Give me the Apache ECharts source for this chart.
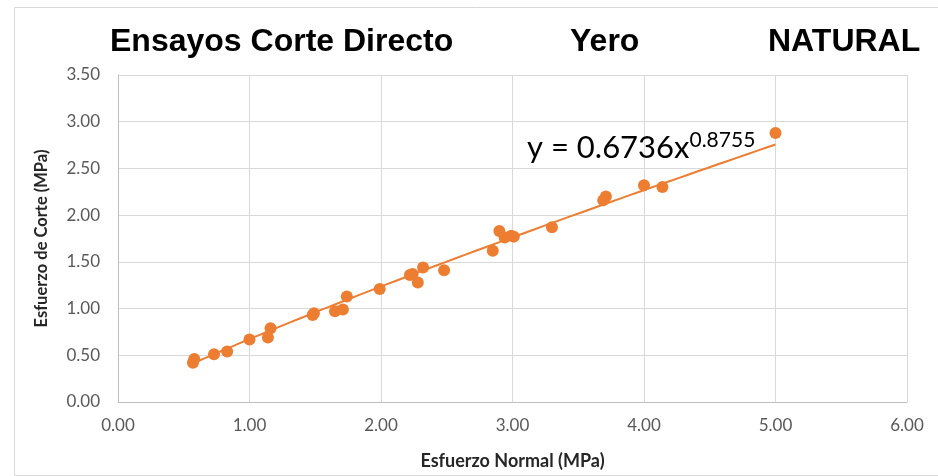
<!DOCTYPE html>
<html>
<head>
<meta charset="utf-8">
<script src="https://cdn.jsdelivr.net/npm/echarts@6/dist/echarts.min.js"></script>
<style>
html,body{margin:0;padding:0;background:#fff;}
#chart{width:938px;height:476px;}
</style>
</head>
<body>
<div id="chart"></div>
<script>
// Data
var normalStress = [0.57, 0.58, 0.73, 0.83, 1.00, 1.14, 1.16, 1.48, 1.49, 1.65, 1.71, 1.74, 1.99, 2.22, 2.24, 2.28, 2.32, 2.48, 2.85, 2.90, 2.94, 2.99, 3.01, 3.30, 3.69, 3.71, 4.00, 4.14, 5.00];
var shearStress  = [0.42, 0.46, 0.51, 0.54, 0.67, 0.69, 0.79, 0.93, 0.95, 0.97, 0.99, 1.13, 1.21, 1.36, 1.37, 1.28, 1.44, 1.41, 1.62, 1.83, 1.76, 1.78, 1.77, 1.87, 2.16, 2.20, 2.32, 2.30, 2.88];
var trendA = 0.6736;
var trendB = 0.8755;
var titleParts = ['Ensayos Corte Directo', 'Yero', 'NATURAL'];
var xTitle = 'Esfuerzo Normal (MPa)';
var yTitle = 'Esfuerzo de Corte (MPa)';

var points = normalStress.map(function (x, i) { return [x, shearStress[i]]; });
var xMin = Math.min.apply(null, normalStress), xMax = Math.max.apply(null, normalStress);
var trend = [];
for (var k = 0; k <= 60; k++) {
  var xv = xMin + (xMax - xMin) * k / 60;
  trend.push([xv, trendA * Math.pow(xv, trendB)]);
}

var chart = echarts.init(document.getElementById('chart'), null, {renderer: 'canvas'});
var titleFont = {fontFamily: 'Liberation Sans', fontWeight: 'bold', fontSize: 32, fill: '#000'};
chart.setOption({
  animation: false,
  backgroundColor: '#fff',
  grid: {left: 118, right: 31, top: 75, bottom: 74, containLabel: false},
  xAxis: {
    type: 'value', min: 0, max: 6, interval: 1,
    name: xTitle, nameLocation: 'middle', nameGap: 50,
    nameTextStyle: {fontFamily: 'Lato', fontWeight: 'bold', fontSize: 18, color: '#262626'},
    axisLine: {show: true, lineStyle: {color: '#BFBFBF', width: 1}},
    axisTick: {show: false},
    axisLabel: {margin: 15, fontFamily: 'Lato', fontSize: 17, color: '#595959',
      formatter: function (v) { return v.toFixed(2); }},
    splitLine: {show: true, lineStyle: {color: '#D9D9D9', width: 1}}
  },
  yAxis: {
    type: 'value', min: 0, max: 3.5, interval: 0.5,
    name: yTitle, nameLocation: 'middle', nameGap: 68, nameRotate: 90,
    nameTextStyle: {fontFamily: 'Lato', fontWeight: 'bold', fontSize: 16.5, color: '#262626'},
    axisLine: {show: true, lineStyle: {color: '#BFBFBF', width: 1}},
    axisTick: {show: false},
    axisLabel: {margin: 18, fontFamily: 'Lato', fontSize: 17, color: '#595959',
      formatter: function (v) { return v.toFixed(2); }},
    splitLine: {show: true, lineStyle: {color: '#D9D9D9', width: 1}}
  },
  series: [
    {
      type: 'line', data: trend, showSymbol: false, symbol: 'none', smooth: false,
      lineStyle: {color: '#ED7D31', width: 2}, z: 2, silent: true
    },
    {
      type: 'scatter', data: points, symbol: 'circle', symbolSize: 12,
      itemStyle: {color: '#ED7D31', opacity: 1}, z: 3
    }
  ],
  graphic: [
    {type: 'rect', left: 12, top: 5, shape: {width: 960, height: 468},
      style: {fill: 'none', stroke: '#D9D9D9', lineWidth: 1}, silent: true, z: -1},
    {type: 'text', x: 110, y: 42, style: Object.assign({text: titleParts[0], verticalAlign: 'middle'}, titleFont)},
    {type: 'text', x: 570, y: 42, style: Object.assign({text: titleParts[1], verticalAlign: 'middle'}, titleFont)},
    {type: 'text', x: 768, y: 42, style: Object.assign({text: titleParts[2], verticalAlign: 'middle'}, titleFont)},
    {type: 'text', x: 527, y: 130, z: 10,
      style: {
        text: '{m|y = ' + trendA.toFixed(4) + 'x}{s|' + trendB.toFixed(4) + '}',
        verticalAlign: 'top',
        rich: {
          m: {fontFamily: 'Lato', fontSize: 31, lineHeight: 33, fill: '#000', verticalAlign: 'bottom'},
          s: {fontFamily: 'Lato', fontSize: 21, lineHeight: 33, fill: '#000', verticalAlign: 'top', padding: [0, 0, 8, 0]}
        }
      }
    }
  ]
});
</script>
</body>
</html>
